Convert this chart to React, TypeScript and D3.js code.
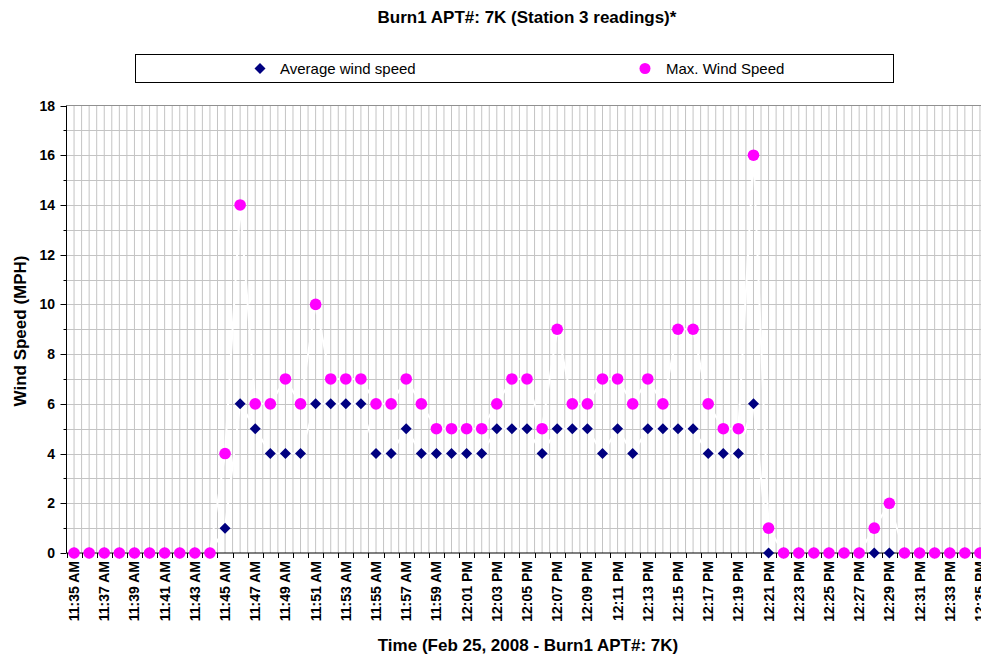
import * as d3 from "d3";

const times = [
  "11:35 AM", "11:36 AM", "11:37 AM", "11:38 AM", "11:39 AM", "11:40 AM", "11:41 AM", "11:42 AM",
  "11:43 AM", "11:44 AM", "11:45 AM", "11:46 AM", "11:47 AM", "11:48 AM", "11:49 AM", "11:50 AM",
  "11:51 AM", "11:52 AM", "11:53 AM", "11:54 AM", "11:55 AM", "11:56 AM", "11:57 AM", "11:58 AM",
  "11:59 AM", "12:00 PM", "12:01 PM", "12:02 PM", "12:03 PM", "12:04 PM", "12:05 PM", "12:06 PM",
  "12:07 PM", "12:08 PM", "12:09 PM", "12:10 PM", "12:11 PM", "12:12 PM", "12:13 PM", "12:14 PM",
  "12:15 PM", "12:16 PM", "12:17 PM", "12:18 PM", "12:19 PM", "12:20 PM", "12:21 PM", "12:22 PM",
  "12:23 PM", "12:24 PM", "12:25 PM", "12:26 PM", "12:27 PM", "12:28 PM", "12:29 PM", "12:30 PM",
  "12:31 PM", "12:32 PM", "12:33 PM", "12:34 PM", "12:35 PM",
];

const avgSpeed = [
  0, 0, 0, 0, 0, 0, 0, 0, 0, 0,
  1, 6, 5, 4, 4, 4, 6, 6, 6, 6,
  4, 4, 5, 4, 4, 4, 4, 4, 5, 5,
  5, 4, 5, 5, 5, 4, 5, 4, 5, 5,
  5, 5, 4, 4, 4, 6, 0, 0, 0, 0,
  0, 0, 0, 0, 0, 0, 0, 0, 0, 0, 0,
];

const maxSpeed = [
  0, 0, 0, 0, 0, 0, 0, 0, 0, 0,
  4, 14, 6, 6, 7, 6, 10, 7, 7, 7,
  6, 6, 7, 6, 5, 5, 5, 5, 6, 7,
  7, 5, 9, 6, 6, 7, 7, 6, 7, 6,
  9, 9, 6, 5, 5, 16, 1, 0, 0, 0,
  0, 0, 0, 1, 2, 0, 0, 0, 0, 0, 0,
];

const yTicks = [0, 2, 4, 6, 8, 10, 12, 14, 16, 18];

const W = 981;
const H = 658;
const left = 66.5;
const right = 987.5;
const top = 105.5;
const bottom = 553;

const FONT = "'Liberation Sans', Arial, sans-serif";

export default function App() {
  const x = d3.scaleBand<string>().domain(times).range([left, right]).padding(0);
  const bw = x.bandwidth();
  const cx = (t: string) => (x(t) ?? 0) + bw / 2;
  const y = d3.scaleLinear().domain([0, 18]).range([bottom, top]);

  const vGrid = d3.range(1, times.length * 2 + 1).map((k) => left + (k * bw) / 2);
  const hGrid = d3.range(1, 18);

  const line = d3
    .line<number>()
    .x((_, i) => cx(times[i]))
    .y((d) => y(d));

  const diamond = (px: number, py: number) =>
    `M${px},${py - 5.5}L${px + 5.5},${py}L${px},${py + 5.5}L${px - 5.5},${py}Z`;

  return (
    <svg
      width={W}
      height={H}
      style={{ position: "fixed", left: 0, top: 0, background: "#fff" }}
    >
      <rect width={W} height={H} fill="#fff" />
      {/* title */}
      <text x={527} y={23} textAnchor="middle" fontFamily={FONT} fontWeight="bold" fontSize={17}>
        Burn1 APT#: 7K (Station 3 readings)*
      </text>

      {/* legend */}
      <rect x={135.5} y={54.5} width={758} height={28} fill="#fff" stroke="#000" strokeWidth={1} />
      <path d={diamond(260, 68.5)} fill="#000080" />
      <text x={280} y={74} fontFamily={FONT} fontSize={15}>Average wind speed</text>
      <circle cx={645} cy={68.5} r={5.5} fill="#ff00ff" />
      <text x={666} y={74} fontFamily={FONT} fontSize={15}>Max. Wind Speed</text>

      {/* grid */}
      <g stroke="#c4c4c4" strokeWidth={1}>
        {vGrid.map((gx, i) => (
          <line key={"v" + i} x1={gx} x2={gx} y1={top} y2={bottom} />
        ))}
        {hGrid.map((v) => (
          <line key={"h" + v} x1={left} x2={right} y1={Math.round(y(v)) + 0.5} y2={Math.round(y(v)) + 0.5} />
        ))}
      </g>
      <line x1={left} x2={right} y1={top} y2={top} stroke="#909090" strokeWidth={1} />

      {/* white connecting lines */}
      <path d={line(avgSpeed) ?? ""} fill="none" stroke="#fff" strokeWidth={2} />
      <path d={line(maxSpeed) ?? ""} fill="none" stroke="#fff" strokeWidth={2} />

      {/* axes */}
      <line x1={left} x2={left} y1={top} y2={bottom} stroke="#000" strokeWidth={1} />
      <line x1={left} x2={right} y1={bottom} y2={bottom} stroke="#000" strokeWidth={1} />
      {d3.range(0, 19).map((v) => (
        <line
          key={"yt" + v}
          x1={left - (v % 2 === 0 ? 6 : 3)}
          x2={left}
          y1={Math.round(y(v)) + 0.5}
          y2={Math.round(y(v)) + 0.5}
          stroke="#000"
        />
      ))}
      {yTicks.map((v) => (
        <text
          key={"yl" + v}
          x={55}
          y={y(v) + 5}
          textAnchor="end"
          fontFamily={FONT}
          fontWeight="bold"
          fontSize={14}
        >
          {v}
        </text>
      ))}
      {d3.range(0, times.length + 1).map((k) => {
        const tx = Math.round(left + k * bw) + 0.5;
        return <line key={"xt" + k} x1={tx} x2={tx} y1={bottom} y2={bottom + 5} stroke="#000" />;
      })}
      {times.map((t, i) =>
        i % 2 === 0 ? (
          <text
            key={"xl" + t}
            transform={`translate(${cx(t) + 5},${561}) rotate(-90)`}
            textAnchor="end"
            fontFamily={FONT}
            fontWeight="bold"
            fontSize={14}
          >
            {t}
          </text>
        ) : null
      )}

      {/* series */}
      {avgSpeed.map((v, i) => (
        <path key={"a" + i} d={diamond(cx(times[i]), y(v))} fill="#000080" />
      ))}
      {maxSpeed.map((v, i) => (
        <circle key={"m" + i} cx={cx(times[i])} cy={y(v)} r={5.8} fill="#ff00ff" />
      ))}

      {/* axis titles */}
      <text
        transform={`translate(26,331) rotate(-90)`}
        textAnchor="middle"
        fontFamily={FONT}
        fontWeight="bold"
        fontSize={17}
      >
        Wind Speed (MPH)
      </text>
      <text x={528} y={651} textAnchor="middle" fontFamily={FONT} fontWeight="bold" fontSize={17}>
        Time (Feb 25, 2008 - Burn1 APT#: 7K)
      </text>
    </svg>
  );
}
